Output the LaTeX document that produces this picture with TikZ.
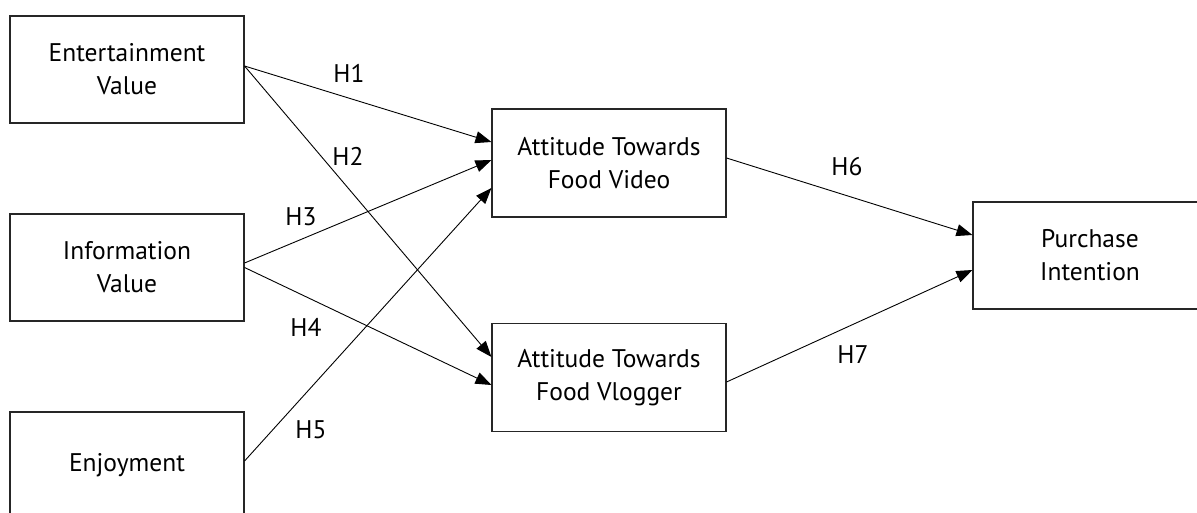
\documentclass[tikz,border=0pt]{standalone}
\usepackage{fontspec}
\setmainfont{PT Sans}
\usetikzlibrary{arrows.meta}
\begin{document}
\begin{tikzpicture}[x=1pt,y=-1pt,
  box/.style={draw=black!85,line width=1.1pt,minimum width=234pt,minimum height=107pt,inner sep=0pt,align=center,font=\fontsize{25.5}{33}\selectfont},
  lbl/.style={font=\fontsize{25.5}{33}\selectfont,inner sep=0pt},
  conn/.style={line width=0.9pt,-{Triangle[length=16pt,width=12pt]}}]
\useasboundingbox (0,0) rectangle (1197,513);
\clip (0,0) rectangle (1197,513);
\node[box] (ev) at (127,69.5) {Entertainment\\Value};
\node[box] (iv) at (127,267.5) {Information\\Value};
\node[box] (en) at (127,465.5) {Enjoyment};
\node[box,minimum height=108pt] (fv) at (609,163) {Attitude Towards\\Food Video};
\node[box,minimum height=108pt] (fl) at (609,377.5) {Attitude Towards\\Food Vlogger};
\node[box] (pi) at (1090,255.5) {Purchase\\Intention};
\draw[conn] ([yshift=3.5pt]ev.east) -- ([yshift=21pt]fv.west);
\draw[conn] ([yshift=3.5pt]ev.east) -- ([yshift=20.5pt]fl.west);
\draw[conn] ([yshift=4.5pt]iv.east) -- ([yshift=3pt]fv.west);
\draw[conn] (iv.east) -- ([yshift=-7.5pt]fl.west);
\draw[conn] ([yshift=4.5pt]en.east) -- ([yshift=-25pt]fv.west);
\draw[conn] ([yshift=5pt]fv.east) -- ([yshift=20.5pt]pi.west);
\draw[conn] ([yshift=-4.5pt]fl.east) -- ([yshift=-14.5pt]pi.west);
\node[lbl] (h1) at (349,73) {H1};
\node[lbl] (h2) at (348,156) {H2};
\node[lbl] (h3) at (301,217) {H3};
\node[lbl] (h4) at (306,327) {H4};
\node[lbl] (h5) at (311,430) {H5};
\node[lbl] (h6) at (847,167) {H6};
\node[lbl] (h7) at (853,355) {H7};
\end{tikzpicture}
\end{document}
